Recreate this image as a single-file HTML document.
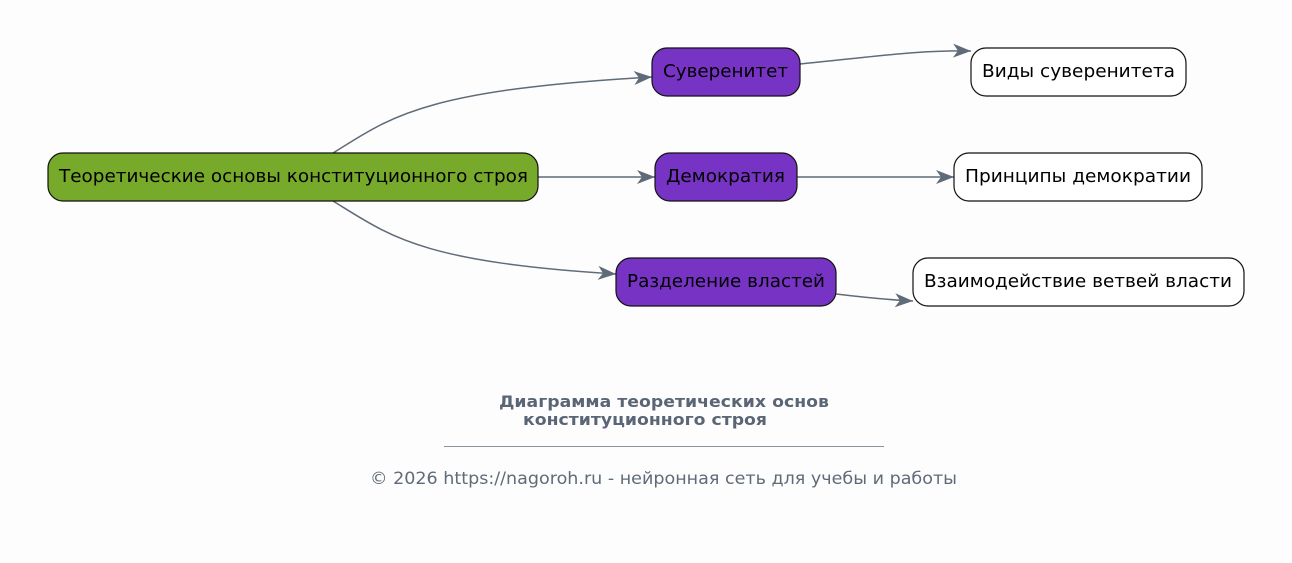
<!DOCTYPE html>
<html><head><meta charset="utf-8"><style>
html,body{margin:0;padding:0;background:#fefdfd;}
svg{display:block;font-family:"DejaVu Sans","Liberation Sans",sans-serif;}
</style></head><body>
<svg width="1292" height="563" viewBox="0 0 1292 563" xmlns="http://www.w3.org/2000/svg">
<defs>
<marker id="a" viewBox="0 0 20 16" refX="19" refY="8" markerWidth="20" markerHeight="16" markerUnits="userSpaceOnUse" orient="auto">
<path d="M1,1 L19,8 L1,15 L6,8 Z" fill="#5f6b78"/>
</marker>
</defs>
<rect width="1292" height="563" fill="#fefdfd"/>
<g fill="none" stroke="#5f6b78" stroke-width="1.5">
<path d="M333,153 C390,118 420,90 652,77" marker-end="url(#a)"/>
<path d="M538,177 L655,177" marker-end="url(#a)"/>
<path d="M333,201 C390,236 420,262 616,274" marker-end="url(#a)"/>
<path d="M800,64 C880,56 920,50 971,51" marker-end="url(#a)"/>
<path d="M797,177 L954,177" marker-end="url(#a)"/>
<path d="M836,294 C870,298 890,300 913,301" marker-end="url(#a)"/>
</g>
<g stroke="#111" stroke-width="1.2">
<rect x="48" y="153" width="490" height="48" rx="15" fill="#77aa2b"/>
<rect x="652" y="48" width="148" height="48" rx="15" fill="#7734c4"/>
<rect x="655" y="153" width="142" height="48" rx="15" fill="#7734c4"/>
<rect x="616" y="258" width="220" height="48" rx="15" fill="#7734c4"/>
<rect x="971" y="48" width="215" height="48" rx="15" fill="#fff"/>
<rect x="954" y="153" width="248" height="48" rx="15" fill="#fff"/>
<rect x="913" y="258" width="331" height="48" rx="15" fill="#fff"/>
</g>
<g font-size="18" fill="#000" lengthAdjust="spacingAndGlyphs">
<text x="59" y="182" textLength="469" lengthAdjust="spacingAndGlyphs">Теоретические основы конституционного строя</text>
<text x="663" y="77" textLength="125" lengthAdjust="spacingAndGlyphs">Суверенитет</text>
<text x="666" y="182" textLength="119" lengthAdjust="spacingAndGlyphs">Демократия</text>
<text x="627" y="287" textLength="198" lengthAdjust="spacingAndGlyphs">Разделение властей</text>
<text x="982" y="77" textLength="193" lengthAdjust="spacingAndGlyphs">Виды суверенитета</text>
<text x="965" y="182" textLength="226" lengthAdjust="spacingAndGlyphs">Принципы демократии</text>
<text x="924" y="287" textLength="308" lengthAdjust="spacingAndGlyphs">Взаимодействие ветвей власти</text>
</g>
<g fill="#5a6575" font-weight="bold" font-size="16">
<text x="499" y="407" textLength="330" lengthAdjust="spacingAndGlyphs">Диаграмма теоретических основ</text>
<text x="523" y="425" textLength="244" lengthAdjust="spacingAndGlyphs">конституционного строя</text>
</g>
<line x1="444" y1="446.5" x2="884" y2="446.5" stroke="#8a929c" stroke-width="1"/>
<text x="370" y="484" textLength="587" lengthAdjust="spacingAndGlyphs" font-size="17" fill="#5f6b78">© 2026 https://nagoroh.ru - нейронная сеть для учебы и работы</text>
</svg>
</body></html>
